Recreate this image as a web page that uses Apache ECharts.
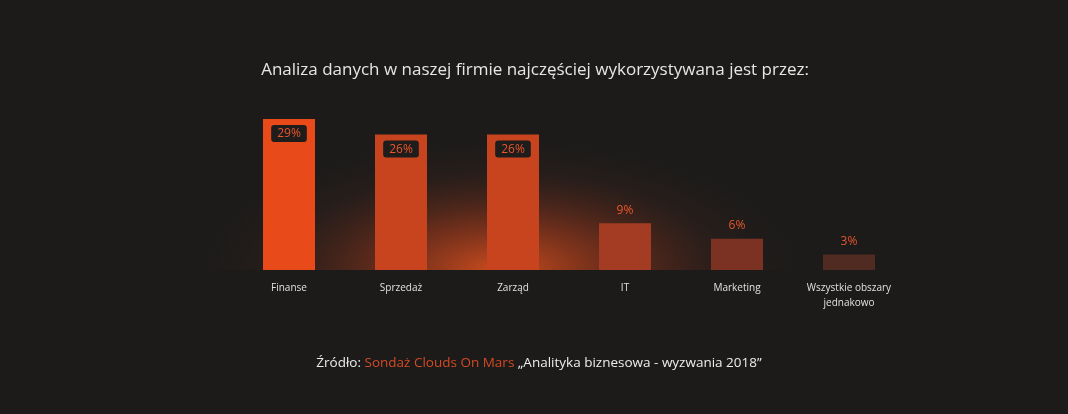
<!DOCTYPE html>
<html>
<head>
<meta charset="utf-8">
<script src="https://cdn.jsdelivr.net/npm/echarts@6/dist/echarts.min.js"></script>
<style>
  html, body { margin: 0; padding: 0; background: #1c1b1a; }
  #chart { width: 1068px; height: 414px; }
</style>
</head>
<body>
<div id="chart"></div>
<script>
var categories = ['Finanse', 'Sprzedaż', 'Zarząd', 'IT', 'Marketing', 'Wszystkie obszary\njednakowo'];
var values = [29, 26, 26, 9, 6, 3];
var barColors = ['#e84a1a', '#c8441e', '#c8441e', '#a33c22', '#7c3222', '#4f2b21'];
var boxedLabels = [true, true, true, false, false, false];

var chartDom = document.getElementById('chart');
var myChart = echarts.init(chartDom);

var orange = '#e8562c';

var data = values.map(function (v, i) {
    var label = boxedLabels[i] ? {
        show: true,
        position: 'insideTop',
        distance: 6,
        formatter: '{c}%',
        color: orange,
        fontSize: 12,
        fontFamily: 'Open Sans',
        backgroundColor: '#1f1d1c',
        borderRadius: 3,
        padding: [3, 6, 2, 6]
    } : {
        show: true,
        position: 'top',
        distance: 7,
        formatter: '{c}%',
        color: orange,
        fontSize: 12,
        fontFamily: 'Open Sans'
    };
    return { value: v, itemStyle: { color: barColors[i] }, label: label };
});

var option = {
    backgroundColor: '#1c1b1a',
    title: [
        {
            text: 'Analiza danych w naszej firmie najczęściej wykorzystywana jest przez:',
            left: 530,
            textAlign: 'center',
            top: 57,
            textStyle: { color: '#e6e6e6', fontSize: 17, fontWeight: 'normal', fontFamily: 'Open Sans' }
        },
        {
            text: '{w|Źródło: }{o|Sondaż Clouds On Mars}{w| „Analityka biznesowa - wyzwania 2018”}',
            left: 534,
            textAlign: 'center',
            top: 351,
            textStyle: {
                fontWeight: 'normal',
                rich: {
                    w: { color: '#ececec', fontSize: 13.5, fontWeight: 'normal', fontFamily: 'Open Sans' },
                    o: { color: '#d44a24', fontSize: 13.5, fontWeight: 'normal', fontFamily: 'Open Sans' }
                }
            }
        }
    ],
    graphic: [
        {
            type: 'sector',
            z: 0,
            x: 500,
            y: 270,
            scaleX: 2.3,
            shape: { cx: 0, cy: 0, r: 140, r0: 0, startAngle: Math.PI, endAngle: Math.PI * 2 },
            style: {
                fill: new echarts.graphic.RadialGradient(0.5, 1, 1, [
                    { offset: 0, color: 'rgba(215,80,30,0.95)' },
                    { offset: 0.35, color: 'rgba(170,60,28,0.55)' },
                    { offset: 0.7, color: 'rgba(90,40,28,0.18)' },
                    { offset: 1, color: 'rgba(28,27,26,0)' }
                ])
            },
            silent: true
        }
    ],
    grid: {
        left: 233,
        right: 163,
        top: 119,
        bottom: 144
    },
    xAxis: {
        type: 'category',
        data: categories,
        axisLine: { show: false },
        axisTick: { show: false },
        axisLabel: {
            color: '#e0e0e0',
            fontSize: 10,
            fontFamily: 'Open Sans',
            margin: 11,
            lineHeight: 15,
            interval: 0
        }
    },
    yAxis: {
        type: 'value',
        min: 0,
        max: 29,
        show: false,
        splitLine: { show: false }
    },
    series: [
        {
            type: 'bar',
            barWidth: 52,
            z: 2,
            data: data
        }
    ]
};

myChart.setOption(option);
</script>
</body>
</html>
